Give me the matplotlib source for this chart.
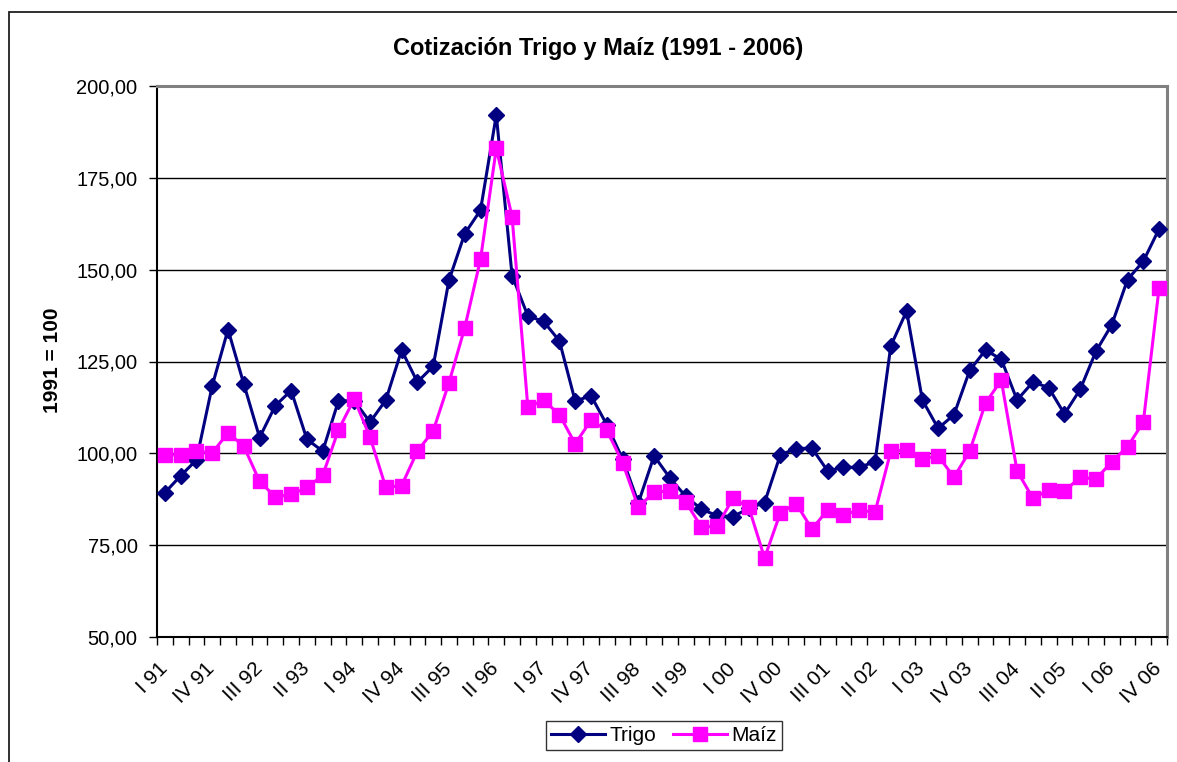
import matplotlib
matplotlib.use("Agg")
import matplotlib.pyplot as plt
from matplotlib.patches import Rectangle
from matplotlib.ticker import FuncFormatter, MultipleLocator, FixedLocator
from matplotlib.transforms import ScaledTranslation

plt.rcParams['font.family'] = ['Liberation Sans', 'DejaVu Sans']

# Quarter labels 1991 Q1 .. 2006 Q4
roman = ["I", "II", "III", "IV"]
quarters = [f"{roman[q]} {y % 100:02d}" for y in range(1991, 2007) for q in range(4)]

trigo = [89.3, 93.9, 98.2, 118.4, 133.7, 118.9, 104.3, 113.0, 117.1, 103.8,
         100.6, 114.3, 114.3, 108.5, 114.5, 128.1, 119.4, 123.7, 147.1, 159.8,
         166.2, 192.1, 148.4, 137.4, 135.9, 130.6, 114.2, 115.7, 107.8, 98.5,
         86.5, 99.3, 93.3, 88.3, 84.8, 83.0, 82.8, 85.0, 86.6, 99.6,
         101.3, 101.4, 95.2, 96.2, 96.2, 97.7, 129.3, 138.7, 114.5, 106.8,
         110.5, 122.6, 128.1, 125.6, 114.5, 119.4, 117.9, 110.7, 117.4, 127.8,
         135.0, 147.3, 152.3, 161.1]

maiz = [99.6, 99.6, 100.6, 100.1, 105.6, 101.9, 92.4, 88.1, 88.8, 90.7,
        94.0, 106.4, 114.8, 104.4, 90.7, 91.2, 100.6, 106.1, 119.2, 134.2,
        152.8, 183.0, 164.4, 112.5, 114.5, 110.5, 102.6, 109.0, 106.3, 97.5,
        85.3, 89.5, 89.7, 86.8, 79.9, 80.2, 87.8, 85.3, 71.5, 83.8,
        86.3, 79.4, 84.6, 83.3, 84.5, 84.0, 100.6, 100.9, 98.5, 99.3,
        93.5, 100.6, 113.7, 119.9, 95.2, 87.8, 89.9, 89.7, 93.5, 93.0,
        97.7, 101.8, 108.5, 145.1]

title = "Cotización Trigo y Maíz (1991 - 2006)"
ylabel = "1991 = 100"

W, H = 1177, 762
fig = plt.figure(figsize=(W / 100, H / 100), dpi=100)
fig.patch.set_facecolor('white')

# outer chart border (left and top visible; right/bottom cut off)
fig.add_artist(Rectangle((8.5 / W, -0.05), 1.2, 1 - 12 / H + 0.05,
                         transform=fig.transFigure, fill=False,
                         edgecolor='#202020', linewidth=1.3))

left, right, top, bottom = 157 / W, 1167 / W, 1 - 86 / H, 1 - 637 / H
ax = fig.add_axes([left, bottom, right - left, top - bottom])

x = list(range(len(quarters)))
ax.plot(x, trigo, color='#000080', linewidth=2.2, marker='D', markersize=8.5,
        label='Trigo', zorder=3)
ax.plot(x, maiz, color='#FF00FF', linewidth=2.2, marker='s', markersize=10.5,
        label='Maíz', zorder=4)

ax.set_xlim(-0.5, len(quarters) - 0.5)
ax.set_ylim(50, 200)
ax.yaxis.set_major_locator(MultipleLocator(25))
ax.yaxis.set_major_formatter(FuncFormatter(lambda v, p: f"{v:.2f}".replace('.', ',')))
ax.grid(axis='y', color='black', linewidth=1.0)
ax.set_axisbelow(True)

label_pos = list(range(0, len(quarters), 3))
ax.xaxis.set_major_locator(FixedLocator(label_pos))
ax.set_xticklabels([quarters[i] for i in label_pos])
ax.xaxis.set_minor_locator(FixedLocator([i - 0.5 for i in range(len(quarters) + 1)]))
ax.tick_params(axis='x', which='major', length=0, pad=16, labelsize=15)
ax.tick_params(axis='x', which='minor', length=6, width=1, direction='out', color='black')
ax.tick_params(axis='y', length=6, width=1, direction='out', labelsize=14.5, pad=8)
shift = ScaledTranslation(-7 / 100, 0, fig.dpi_scale_trans)
for lab in ax.get_xticklabels():
    lab.set_rotation(45)
    lab.set_ha('right')
    lab.set_va('top')
    lab.set_rotation_mode('anchor')
    lab.set_transform(lab.get_transform() + shift)

for s in ['left', 'bottom']:
    ax.spines[s].set_color('black')
    ax.spines[s].set_linewidth(1.5)
for s in ['top', 'right']:
    ax.spines[s].set_color('#808080')
    ax.spines[s].set_linewidth(2.2)

fig.text(598 / W, 1 - 48 / H, title, ha='center', va='center',
         fontsize=17, fontweight='bold')
fig.text(53 / W, 1 - 360 / H, ylabel, ha='center', va='center',
         rotation=90, fontsize=15, fontweight='bold')

leg = fig.legend(loc='center', bbox_to_anchor=(664 / W, 1 - 735.5 / H), ncol=2,
                 fontsize=15, frameon=True, fancybox=False, edgecolor='black',
                 handlelength=2.6, handletextpad=0.2, columnspacing=0.8,
                 borderpad=0.25, borderaxespad=0)
leg.get_frame().set_linewidth(1.0)

fig.savefig('out.png', dpi=100, facecolor='white')
